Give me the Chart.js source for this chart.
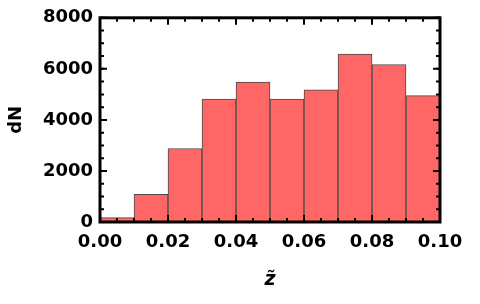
<!DOCTYPE html>
<html>
<head>
<meta charset="utf-8">
<script src="https://cdn.jsdelivr.net/npm/chart.js@4/dist/chart.umd.min.js"></script>
<style>
  html, body { margin: 0; padding: 0; background: #ffffff; }
  #wrap { width: 480px; height: 304px; }
</style>
</head>
<body>
<div id="wrap"><canvas id="c" width="480" height="304"></canvas></div>
<script>
// ---- data ----
const binStarts = [0.00, 0.01, 0.02, 0.03, 0.04, 0.05, 0.06, 0.07, 0.08, 0.09];
const binWidth = 0.01;
const counts = [170, 1080, 2880, 4820, 5480, 4820, 5180, 6580, 6170, 4950];
const xTicks = [0.00, 0.02, 0.04, 0.06, 0.08, 0.10];
const xMinorStep = 0.005;
const yTicks = [0, 2000, 4000, 6000, 8000];
const yMinorStep = 500;
const xTitle = 'z\u0303';
const yTitle = 'dN';

const points = binStarts.map((s, i) => ({ x: s + binWidth / 2, y: counts[i] }));

const frameTicks = {
  id: 'frameTicks',
  afterDatasetsDraw(chart) {
    const { ctx, chartArea: ca, scales } = chart;
    const xs = scales.x, ys = scales.y;
    ctx.save();
    ctx.strokeStyle = '#000';
    // ticks
    ctx.lineWidth = 2;
    const drawX = (v, len) => {
      const px = xs.getPixelForValue(v);
      ctx.beginPath();
      ctx.moveTo(px, ca.bottom); ctx.lineTo(px, ca.bottom - len);
      ctx.moveTo(px, ca.top); ctx.lineTo(px, ca.top + len);
      ctx.stroke();
    };
    const drawY = (v, len) => {
      const py = ys.getPixelForValue(v);
      ctx.beginPath();
      ctx.moveTo(ca.left, py); ctx.lineTo(ca.left + len, py);
      ctx.moveTo(ca.right, py); ctx.lineTo(ca.right - len, py);
      ctx.stroke();
    };
    for (let v = xs.min; v <= xs.max + 1e-9; v += xMinorStep) drawX(v, 4);
    xTicks.forEach(v => drawX(v, 7));
    for (let v = ys.min; v <= ys.max + 1e-9; v += yMinorStep) drawY(v, 4);
    yTicks.forEach(v => drawY(v, 7));
    // frame
    ctx.lineWidth = 3;
    ctx.strokeRect(ca.left, ca.top, ca.right - ca.left, ca.bottom - ca.top);
    ctx.restore();
  }
};

const tickFont = { family: 'DejaVu Sans', weight: 'bold', size: 18 };

new Chart(document.getElementById('c'), {
  type: 'bar',
  data: {
    datasets: [{
      data: points,
      backgroundColor: '#FF6666',
      borderColor: '#4a4a4a',
      borderWidth: 1,
      barPercentage: 1.0,
      categoryPercentage: 1.0
    }]
  },
  options: {
    responsive: false,
    animation: false,
    devicePixelRatio: 1,
    layout: { padding: { left: 0, top: 13, right: 40, bottom: 0 } },
    plugins: { legend: { display: false }, tooltip: { enabled: false } },
    scales: {
      x: {
        type: 'linear',
        min: 0, max: 0.1,
        offset: false,
        grid: { display: false, drawTicks: false },
        border: { display: false },
        afterBuildTicks: s => { s.ticks = xTicks.map(v => ({ value: v })); },
        afterFit: s => { s.height = 82; },
        ticks: {
          color: '#000', font: tickFont, padding: 10, maxRotation: 0, autoSkip: false,
          callback: v => Number(v).toFixed(2)
        },
        title: {
          display: true, text: xTitle, color: '#000',
          font: { family: 'DejaVu Sans', weight: 'bold', style: 'italic', size: 19 },
          padding: { top: 0, bottom: 13 }
        }
      },
      y: {
        type: 'linear',
        min: 0, max: 8000,
        grid: { display: false, drawTicks: false },
        border: { display: false },
        afterBuildTicks: s => { s.ticks = yTicks.map(v => ({ value: v })); },
        afterFit: s => { s.width = 100; },
        ticks: {
          color: '#000', font: tickFont, padding: 7, autoSkip: false,
          callback: v => String(v)
        },
        title: {
          display: true, text: yTitle, color: '#000',
          font: { family: 'DejaVu Sans', weight: 'bold', size: 18 },
          padding: { top: 6, bottom: 0 }
        }
      }
    }
  },
  plugins: [frameTicks]
});
</script>
</body>
</html>
